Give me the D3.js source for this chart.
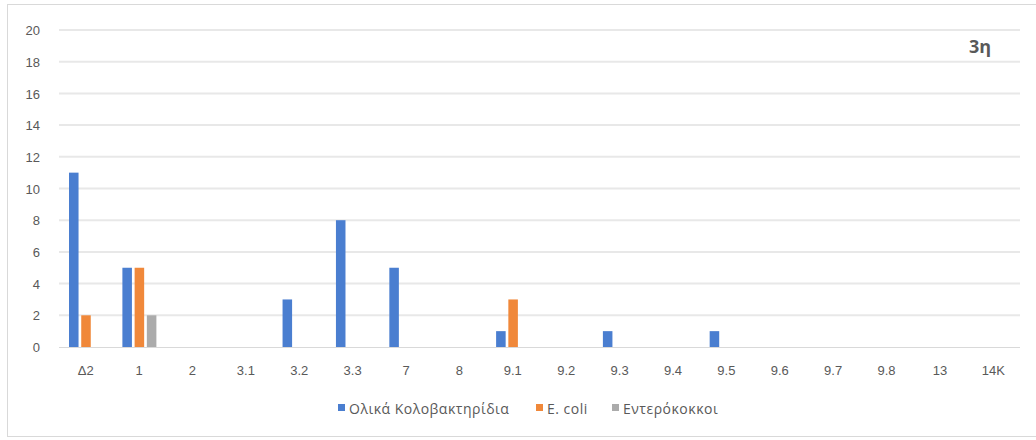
<!DOCTYPE html>
<html>
<head>
<meta charset="utf-8">
<script src="https://cdn.jsdelivr.net/npm/d3@7/dist/d3.min.js"></script>
<style>
  html, body { margin: 0; padding: 0; background: #fff; }
  svg { display: block; font-family: "Open Sans", "Liberation Sans", sans-serif; }
</style>
</head>
<body>
<svg id="chart" width="1036" height="440"></svg>
<script>
// Sampling stations
const categories = ["Δ2", "1", "2", "3.1", "3.2", "3.3", "7", "8", "9.1", "9.2", "9.3", "9.4", "9.5", "9.6", "9.7", "9.8", "13", "14K"];

// Counts per station for each indicator
const totalColiforms = [11, 5, 0, 0, 3, 8, 5, 0, 1, 0, 1, 0, 1, 0, 0, 0, 0, 0];
const eColi          = [2, 5, 0, 0, 0, 0, 0, 0, 3, 0, 0, 0, 0, 0, 0, 0, 0, 0];
const enterococci    = [0, 2, 0, 0, 0, 0, 0, 0, 0, 0, 0, 0, 0, 0, 0, 0, 0, 0];

const seriesNames = ["Ολικά Κολοβακτηρίδια", "E. coli", "Εντερόκοκκοι"];
const yTicks = [0, 2, 4, 6, 8, 10, 12, 14, 16, 18, 20];
const title = "3η";

const colors = ["#4a7ed0", "#f0883a", "#ababab"];
const seriesValues = [totalColiforms, eColi, enterococci];

const svg = d3.select("#chart");

// Chart frame
svg.append("rect")
  .attr("x", 7.5).attr("y", 4.5)
  .attr("width", 1040).attr("height", 432)
  .attr("fill", "#fff")
  .attr("stroke", "#d9d9d9").attr("stroke-width", 1);

const plot = { left: 59, right: 1020, top: 30, bottom: 347 };

const x = d3.scaleBand()
  .domain(categories)
  .range([plot.left, plot.right])
  .paddingInner(0).paddingOuter(0);

const xSub = d3.scaleBand()
  .domain(d3.range(seriesNames.length))
  .range([10, 44])
  .paddingInner(0.22).paddingOuter(0);

const y = d3.scaleLinear()
  .domain([0, 20])
  .range([plot.bottom, plot.top]);

// Horizontal gridlines
const grid = svg.append("g");
grid.selectAll("line")
  .data(yTicks.filter(d => d > 0))
  .join("line")
  .attr("x1", plot.left).attr("x2", plot.right)
  .attr("y1", d => y(d)).attr("y2", d => y(d))
  .attr("stroke", "#e8e8e8").attr("stroke-width", 2);

// Y axis labels
const yAxis = d3.axisLeft(y).tickValues(yTicks).tickSize(0).tickPadding(0);
const yG = svg.append("g")
  .attr("transform", `translate(${plot.left - 19},0)`)
  .call(yAxis);
yG.select(".domain").remove();
yG.selectAll("text")
  .attr("fill", "#595959")
  .style("font-size", "13px")
  .attr("dy", "0.36em");

// Bars
const groups = svg.append("g")
  .selectAll("g")
  .data(seriesValues)
  .join("g")
  .attr("fill", (d, i) => colors[i]);

groups.each(function (values, si) {
  d3.select(this).selectAll("rect")
    .data(values.map((v, ci) => ({ cat: categories[ci], v })))
    .join("rect")
    .filter(d => d.v > 0)
    .attr("x", d => x(d.cat) + xSub(si))
    .attr("width", xSub.bandwidth())
    .attr("y", d => y(d.v))
    .attr("height", d => y(0) - y(d.v));
});

// Baseline
svg.append("line")
  .attr("x1", plot.left).attr("x2", plot.right)
  .attr("y1", y(0) + 0.5).attr("y2", y(0) + 0.5)
  .attr("stroke", "#d9d9d9").attr("stroke-width", 1.2);

// X axis labels
const xAxis = d3.axisBottom(x).tickSize(0).tickPadding(0);
const xG = svg.append("g")
  .attr("transform", `translate(0,${plot.bottom + 19})`)
  .call(xAxis);
xG.select(".domain").remove();
xG.selectAll("text")
  .attr("fill", "#595959")
  .style("font-size", "13px")
  .attr("dy", "0.71em");

// Title
svg.append("text")
  .attr("x", 991).attr("y", 53)
  .attr("text-anchor", "end")
  .attr("fill", "#595959")
  .style("font-size", "18px")
  .style("font-weight", "bold")
  .text(title);

// Legend
const legendX = [338, 536, 612];
const legend = svg.append("g");
seriesNames.forEach((name, i) => {
  legend.append("rect")
    .attr("x", legendX[i]).attr("y", 404)
    .attr("width", 7).attr("height", 7)
    .attr("fill", colors[i]);
  legend.append("text")
    .attr("x", legendX[i] + 11).attr("y", 409)
    .attr("dy", "0.35em")
    .attr("fill", "#595959")
    .style("font-size", "14px")
    .style("letter-spacing", "0.5px")
    .text(name);
});
</script>
</body>
</html>
